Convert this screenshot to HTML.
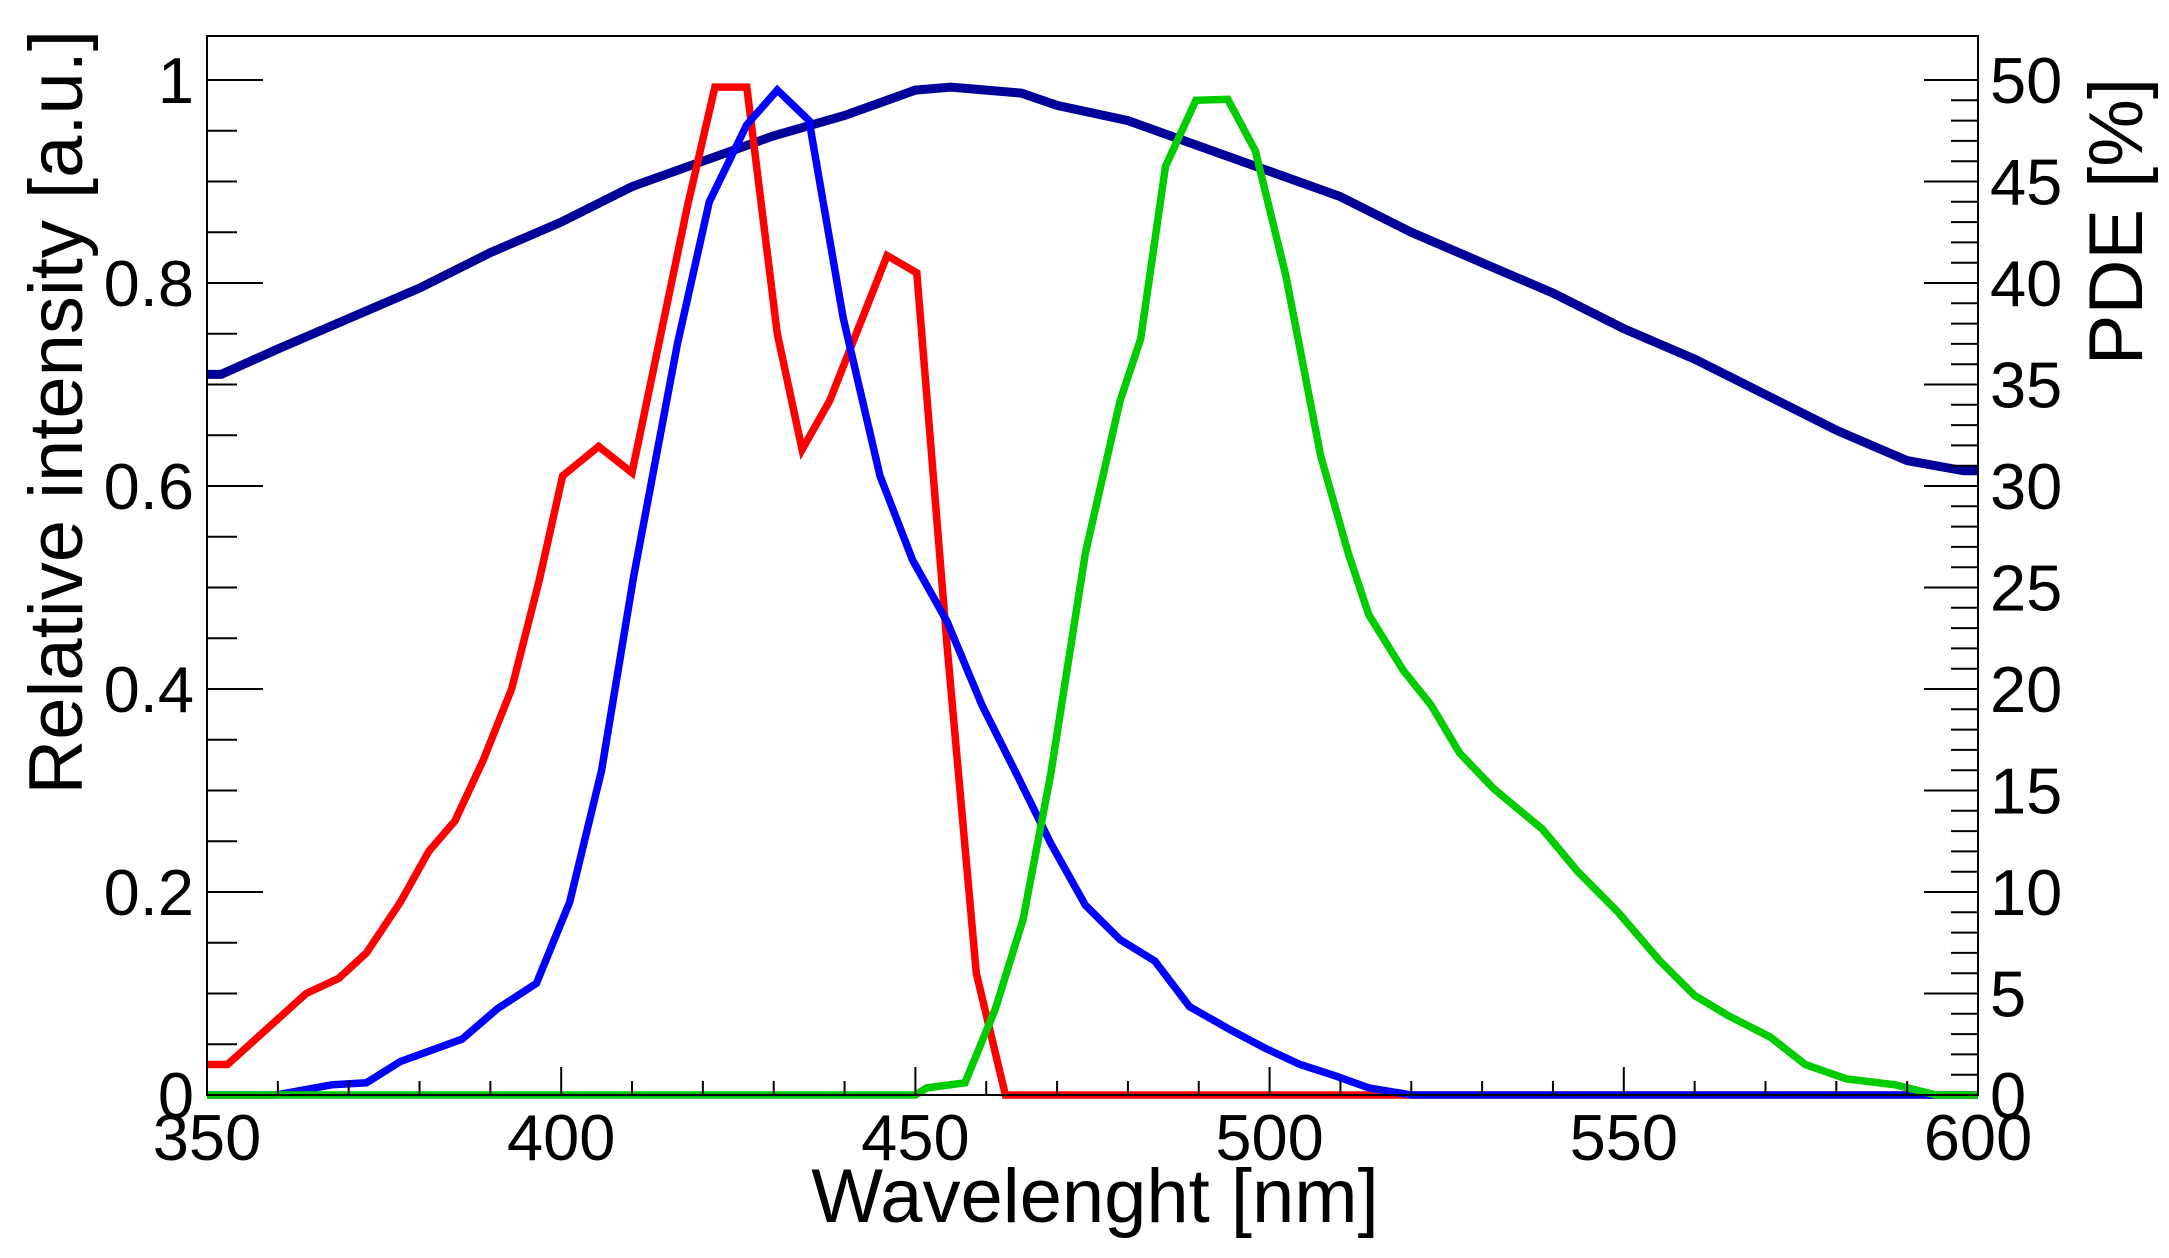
<!DOCTYPE html>
<html><head><meta charset="utf-8"><style>
html,body{margin:0;padding:0;background:#fff;}
svg{display:block;font-family:"Liberation Sans",sans-serif;}
</style></head><body>
<svg id="chart" width="2169" height="1258" viewBox="0 0 2169 1258" xmlns="http://www.w3.org/2000/svg">
<rect width="2169" height="1258" fill="#fff"/>
<g id="marks"></g>
<g id="axes"></g>
<text x="1095" y="1222" font-size="76" text-anchor="middle">Wavelenght [nm]</text>
<text transform="translate(82,30) rotate(-90)" font-size="76" text-anchor="end">Relative intensity [a.u.]</text>
<text transform="translate(2142,78) rotate(-90)" font-size="76" text-anchor="end">PDE [%]</text>
</svg>
<script>
const pdeX=[350,352,360,370,380,390,400,410,420,430,440,450,455,460,465,470,480,490,500,510,520,530,540,550,560,570,580,590,598,600];
const pdeY=[0.71,0.71,0.735,0.765,0.795,0.83,0.86,0.895,0.92,0.945,0.965,0.99,0.993,0.99,0.987,0.975,0.96,0.935,0.91,0.885,0.85,0.82,0.79,0.755,0.725,0.69,0.655,0.625,0.615,0.615];
const redX=[350,352.9,364,368.6,372.5,377.3,381.3,385,389,393,396.9,400.2,405.3,410,417.8,421.7,426.2,430.5,434,437.9,446,450.2,454.5,458.6,462.7,600];
const redY=[0.03,0.03,0.10,0.115,0.14,0.19,0.24,0.27,0.33,0.40,0.507,0.61,0.639,0.613,0.875,0.993,0.993,0.75,0.636,0.684,0.827,0.81,0.44,0.12,0,0];
const blueX=[350,359.8,367.6,372.5,377.3,386,391,396.5,401.2,405.7,410.2,416.4,420.9,426.2,430.5,435,439.8,445,449.6,454.5,459.4,464.3,469.1,474,478.9,483.8,488.7,494.5,499.4,504.3,509.2,514,520,600];
const blueY=[0,0,0.01,0.012,0.033,0.055,0.085,0.11,0.19,0.32,0.51,0.74,0.88,0.956,0.99,0.96,0.766,0.61,0.527,0.466,0.384,0.316,0.248,0.187,0.153,0.132,0.087,0.064,0.046,0.03,0.019,0.007,0,0];
const greenX=[350,450,451.6,457,461.3,465.2,469.1,474,478.9,481.8,485.3,489.6,494.1,498,502.3,507.2,511.1,514,518.9,522.8,526.8,531.6,538.5,543.4,549.2,555.1,560,564.8,570.7,575.6,581.4,588.3,594.1,600];
const greenY=[0,0,0.007,0.012,0.085,0.173,0.316,0.534,0.684,0.745,0.915,0.98,0.981,0.93,0.807,0.63,0.534,0.473,0.418,0.384,0.337,0.302,0.262,0.221,0.18,0.132,0.098,0.078,0.057,0.03,0.016,0.01,0,0];
const xTicks=[350,400,450,500,550,600];
const yTicks=[0,0.2,0.4,0.6,0.8,1];
const yTickLabels=["0","0.2","0.4","0.6","0.8","1"];
const rTicks=[0,5,10,15,20,25,30,35,40,45,50];

const L=207,R=1978,T=36,B=1095,XMIN=350,XMAX=600,YMAX=(B-T)/(B-80);
const sx=v=>L+(v-XMIN)/(XMAX-XMIN)*(R-L);
const sy=v=>B-v/YMAX*(B-T);
const sr=v=>sy(v/50);
const NS="http://www.w3.org/2000/svg";
const marks=document.getElementById('marks'), axes=document.getElementById('axes');
function mk(tag,attrs,parent){const e=document.createElementNS(NS,tag);for(const k in attrs)e.setAttribute(k,attrs[k]);parent.appendChild(e);return e;}
function series(xs,ys,color,w,name){
  const d=xs.map((x,i)=>(i?'L':'M')+sx(x).toFixed(1)+' '+sy(ys[i]).toFixed(1)).join(' ');
  const p=mk('path',{d:d,fill:'none',stroke:color,'stroke-width':w,'stroke-linejoin':'miter'},marks);
  
  
}
series(pdeX,pdeY,'#000099',9,'pde-curve');
series(redX,redY,'#ff0000',7.5,'red-spectrum');
series(blueX,blueY,'#0000ff',7.5,'blue-spectrum');
series(greenX,greenY,'#00cc00',7.5,'green-spectrum');

const frame=mk('rect',{x:L,y:T,width:R-L,height:B-T,fill:'none',stroke:'#000','stroke-width':2},axes);


for(let v=XMIN;v<=XMAX;v+=10){const maj=(v%50===0);mk('line',{x1:sx(v),x2:sx(v),y1:B,y2:B-(maj?28:14),stroke:'#000','stroke-width':2},axes);}
xTicks.forEach(v=>{const t=mk('text',{x:sx(v),y:1160,'font-size':65,'text-anchor':'middle'},axes);t.textContent=v;
  
  });
for(let i=0;i<=20;i++){const v=i*0.05;const maj=(i%4===0);mk('line',{x1:L,x2:L+(maj?56:30),y1:sy(v),y2:sy(v),stroke:'#000','stroke-width':2},axes);}
yTicks.forEach((v,i)=>{const t=mk('text',{x:194,y:sy(v)+23,'font-size':65,'text-anchor':'end'},axes);t.textContent=yTickLabels[i];
  
  });
for(let v=0;v<=50;v++){const maj=(v%5===0);mk('line',{x1:R,x2:R-(maj?54:27),y1:sr(v),y2:sr(v),stroke:'#000','stroke-width':2},axes);}
rTicks.forEach(v=>{const t=mk('text',{x:1990,y:sr(v)+23,'font-size':65,'text-anchor':'start'},axes);t.textContent=v;
  
  });
</script>
</body></html>
